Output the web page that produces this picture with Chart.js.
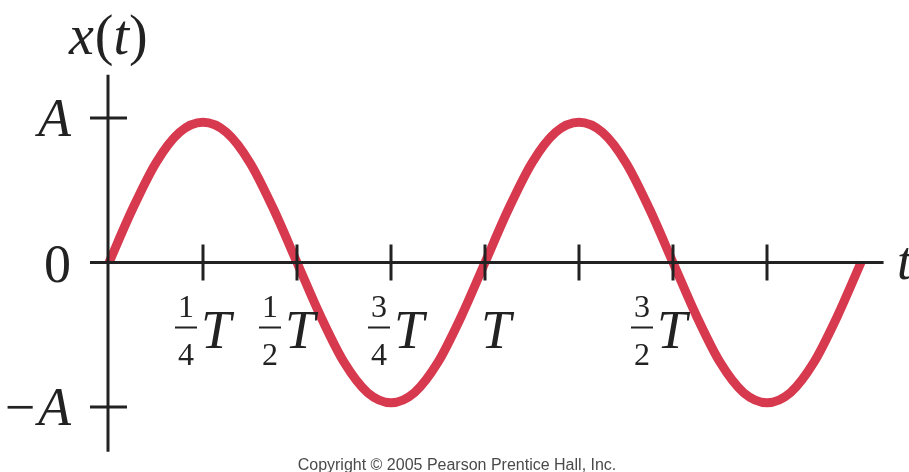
<!DOCTYPE html>
<html>
<head>
<meta charset="utf-8">
<title>x(t)</title>
<script src="https://cdn.jsdelivr.net/npm/chart.js@4/dist/chart.umd.min.js"></script>
<style>
  html, body { margin: 0; padding: 0; background: #fff; }
  #wave { display: block; }
</style>
</head>
<body>
<canvas id="wave" width="909" height="472"></canvas>
<script>
// time in units of T, displacement in units of A
const tValues = [
  0, 0.0625, 0.125, 0.1875, 0.25, 0.3125, 0.375, 0.4375, 0.5,
  0.5625, 0.625, 0.6875, 0.75, 0.8125, 0.875, 0.9375, 1,
  1.0625, 1.125, 1.1875, 1.25, 1.3125, 1.375, 1.4375, 1.5,
  1.5625, 1.625, 1.6875, 1.75, 1.8125, 1.875, 1.9375, 2
];
const xValues = [
  0, 0.37, 0.69, 0.9, 0.97, 0.9, 0.69, 0.37, 0,
  -0.37, -0.69, -0.9, -0.97, -0.9, -0.69, -0.37, 0,
  0.37, 0.69, 0.9, 0.97, 0.9, 0.69, 0.37, 0,
  -0.37, -0.69, -0.9, -0.97, -0.9, -0.69, -0.37, 0
];

// tick marks on the t axis and the ones that get a label
const tTicks = [0.25, 0.5, 0.75, 1, 1.25, 1.5, 1.75];
const tTickLabels = [
  { t: 0.25, num: "1", den: "4" },
  { t: 0.5, num: "1", den: "2" },
  { t: 0.75, num: "3", den: "4" },
  { t: 1, num: null, den: null },
  { t: 1.5, num: "3", den: "2" }
];
const xTicks = [1, 0, -1];
const xTickLabels = ["A", "0", "\u2212A"];

// axis line extents (same units as the data)
const tAxisRange = [-0.05, 2.06];
const xAxisRange = [-1.31, 1.3];

// small horizontal nudges so labels clear the curve
const labelNudge = { 0.25: 0, 0.5: -10, 0.75: 5, 1: 11, 1.5: -14 };

const INK = "#222";
const SERIF = "'Liberation Serif', 'Times New Roman', serif";

const axesPlugin = {
  id: "axes",
  afterDatasetsDraw(chart) {
    const ctx = chart.ctx;
    const xs = chart.scales.x;
    const ys = chart.scales.y;
    const x0 = xs.getPixelForValue(0) - 1;
    const y0 = ys.getPixelForValue(0);
    ctx.save();
    ctx.strokeStyle = INK;
    ctx.lineWidth = 3;
    ctx.lineCap = "butt";
    ctx.beginPath();
    // horizontal t axis
    ctx.moveTo(xs.getPixelForValue(tAxisRange[0]), y0);
    ctx.lineTo(xs.getPixelForValue(tAxisRange[1]), y0);
    // vertical x axis
    ctx.moveTo(x0, ys.getPixelForValue(xAxisRange[0]));
    ctx.lineTo(x0, ys.getPixelForValue(xAxisRange[1]));
    tTicks.forEach(t => {
      const px = xs.getPixelForValue(t);
      ctx.moveTo(px, y0 - 18);
      ctx.lineTo(px, y0 + 18);
    });
    xTicks.forEach(v => {
      const py = ys.getPixelForValue(v);
      ctx.moveTo(x0 - 18, py);
      ctx.lineTo(x0 + 19, py);
    });
    ctx.stroke();
    ctx.restore();
  },
  afterDraw(chart) {
    const ctx = chart.ctx;
    const xs = chart.scales.x;
    const ys = chart.scales.y;
    const x0 = xs.getPixelForValue(0) - 1;
    const y0 = ys.getPixelForValue(0);
    ctx.save();
    ctx.fillStyle = INK;
    ctx.textBaseline = "alphabetic";

    // y tick labels
    ctx.textAlign = "right";
    xTicks.forEach((v, i) => {
      const py = ys.getPixelForValue(v);
      const label = xTickLabels[i];
      ctx.font = label === "0" ? "54px " + SERIF : "italic 54px " + SERIF;
      const dy = label === "0" ? 19 : 18;
      ctx.fillText(label, x0 - 37, py + dy);
    });

    // t tick labels: stacked fraction + italic T
    tTickLabels.forEach(l => {
      const cx = xs.getPixelForValue(l.t) + (labelNudge[l.t] || 0);
      ctx.font = "italic 54px " + SERIF;
      const tw = ctx.measureText("T").width;
      let fw = 0;
      if (l.num) {
        ctx.font = "32px " + SERIF;
        fw = Math.max(ctx.measureText(l.num).width, ctx.measureText(l.den).width) + 6;
      }
      const gap = l.num ? 4 : 0;
      const left = cx - (fw + gap + tw) / 2;
      if (l.num) {
        const fc = left + fw / 2;
        ctx.font = "32px " + SERIF;
        ctx.textAlign = "center";
        ctx.fillText(l.num, fc, y0 + 54);
        ctx.fillText(l.den, fc, y0 + 102);
        ctx.fillRect(left, y0 + 64, fw, 2);
      }
      ctx.font = "italic 54px " + SERIF;
      ctx.textAlign = "left";
      ctx.fillText("T", left + fw + gap, y0 + 85);
    });

    // axis names
    const parts = [["x", true], ["(", false], ["t", true], [")", false]];
    let px = 69;
    parts.forEach(([s, it]) => {
      ctx.font = (it ? "italic " : "") + "56px " + SERIF;
      ctx.textAlign = "left";
      ctx.fillText(s, px, 54);
      px += ctx.measureText(s).width + (s === "x" ? 1 : 0);
    });
    ctx.font = "italic 54px " + SERIF;
    ctx.fillText("t", 897, y0 + 16);

    // footer
    ctx.fillStyle = "#4a4a4a";
    ctx.font = "16px 'Liberation Sans', Arial, sans-serif";
    ctx.textAlign = "center";
    ctx.fillText("Copyright \u00a9 2005 Pearson Prentice Hall, Inc.", 457, 470);
    ctx.restore();
  }
};

const ctx = document.getElementById("wave").getContext("2d");
new Chart(ctx, {
  type: "line",
  data: {
    datasets: [{
      data: tValues.map((t, i) => ({ x: t, y: xValues[i] })),
      borderColor: "#d73a4e",
      borderWidth: 9,
      borderCapStyle: "butt",
      pointRadius: 0,
      cubicInterpolationMode: "monotone",
      fill: false,
      clip: false
    }]
  },
  options: {
    responsive: false,
    animation: false,
    layout: { padding: { left: 109, right: 48, top: 118, bottom: 65 } },
    plugins: { legend: { display: false }, tooltip: { enabled: false } },
    scales: {
      x: { type: "linear", min: 0, max: 2, display: false },
      y: { min: -1, max: 1, display: false }
    }
  },
  plugins: [axesPlugin]
});
</script>
</body>
</html>
